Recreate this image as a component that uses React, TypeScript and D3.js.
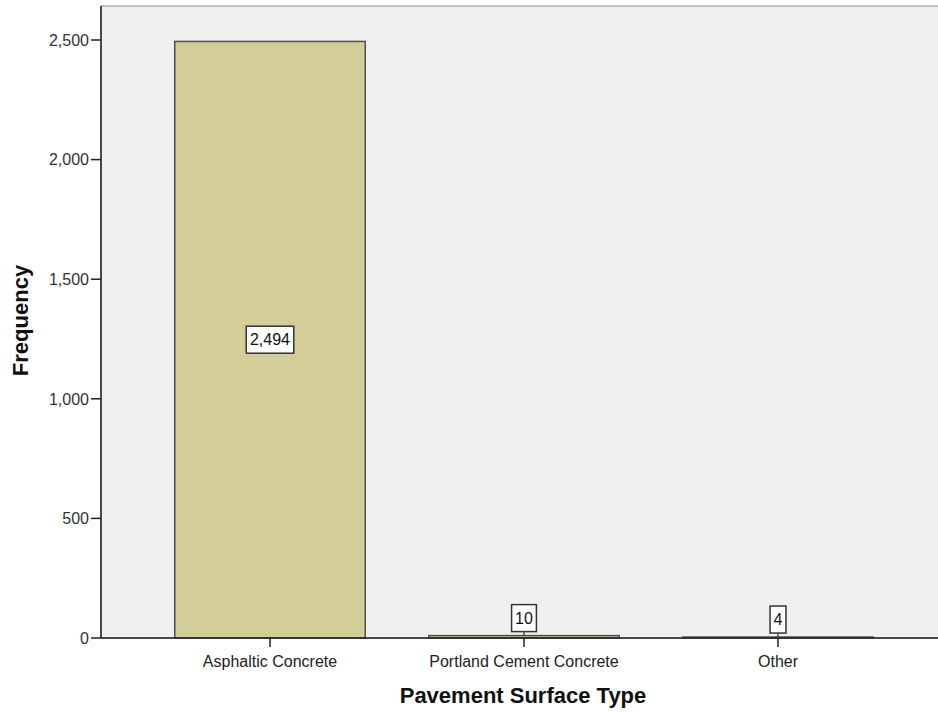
import React from "react";
import * as d3 from "d3";

const categories = ["Asphaltic Concrete", "Portland Cement Concrete", "Other"];
const frequencies = [2494, 10, 4];
const yTicks = [0, 500, 1000, 1500, 2000, 2500];

const W = 938;
const H = 713;
const plotLeft = 101;
const plotTop = 6;
const plotBottom = 638;
const plotRight = 940;

export default function App() {
  const x = d3
    .scaleBand<string>()
    .domain(categories)
    .range([143, 905])
    .paddingInner(0.25)
    .paddingOuter(0.125);
  const y = d3.scaleLinear().domain([0, 2500]).range([plotBottom, 40]);
  const fmt = d3.format(",");
  const font = "Arial, 'Liberation Sans', sans-serif";

  return (
    <svg
      width={W}
      height={H}
      style={{ position: "absolute", left: 0, top: 0, background: "#fff" }}
      fontFamily={font}
    >
      <rect
        x={plotLeft}
        y={plotTop}
        width={plotRight - plotLeft}
        height={plotBottom - plotTop}
        fill="#f0f0f0"
        stroke="#8a8a8a"
        strokeWidth={1}
      />
      {categories.map((c, i) => {
        const v = frequencies[i];
        const bx = x(c)!;
        const bw = x.bandwidth();
        const by = y(v);
        return (
          <rect
            key={c}
            x={bx}
            y={by}
            width={bw}
            height={plotBottom - by}
            fill="#d3ce98"
            stroke="#4d4d4d"
            strokeWidth={1.5}
          />
        );
      })}
      {/* axes */}
      <line x1={plotLeft} x2={plotLeft} y1={plotTop} y2={plotBottom} stroke="#222" strokeWidth={1.5} />
      <line x1={plotLeft} x2={W} y1={plotBottom} y2={plotBottom} stroke="#222" strokeWidth={1.5} />
      {yTicks.map((t) => (
        <g key={t} transform={`translate(0,${y(t)})`}>
          <line x1={plotLeft - 10} x2={plotLeft} y1={0} y2={0} stroke="#222" strokeWidth={1.5} />
          <text x={plotLeft - 12} y={0} dy="0.36em" textAnchor="end" fontSize={16} fill="#333">
            {fmt(t)}
          </text>
        </g>
      ))}
      {categories.map((c) => {
        const cx = x(c)! + x.bandwidth() / 2;
        return (
          <g key={c}>
            <line x1={cx} x2={cx} y1={plotBottom} y2={plotBottom + 9} stroke="#222" strokeWidth={1.5} />
            <text x={cx} y={667} textAnchor="middle" fontSize={16} fill="#222">
              {c}
            </text>
          </g>
        );
      })}
      {/* value labels */}
      {categories.map((c, i) => {
        const v = frequencies[i];
        const cx = x(c)! + x.bandwidth() / 2;
        const txt = fmt(v);
        const tw = txt.length * 8.9 - (txt.includes(",") ? 4 : 0);
        const bw = tw + 7;
        const bh = 27;
        const large = plotBottom - y(v) > 40;
        const cy = large ? (y(v) + plotBottom) / 2 : y(v) - 4 - bh / 2;
        return (
          <g key={c + "lbl"}>
            {!large && (
              <line x1={cx} x2={cx} y1={cy + bh / 2} y2={y(v)} stroke="#333" strokeWidth={1.2} />
            )}
            <rect
              x={cx - bw / 2}
              y={cy - bh / 2}
              width={bw}
              height={bh}
              fill="#fff"
              stroke="#333"
              strokeWidth={1.5}
            />
            <text x={cx} y={cy} dy="0.36em" textAnchor="middle" fontSize={16} fill="#111">
              {txt}
            </text>
          </g>
        );
      })}
      <text
        transform={`translate(28,320.5) rotate(-90)`}
        textAnchor="middle"
        fontSize={22}
        fontWeight="bold"
        fill="#111"
      >
        Frequency
      </text>
      <text x={523} y={703} textAnchor="middle" fontSize={22} fontWeight="bold" fill="#111">
        Pavement Surface Type
      </text>
    </svg>
  );
}
